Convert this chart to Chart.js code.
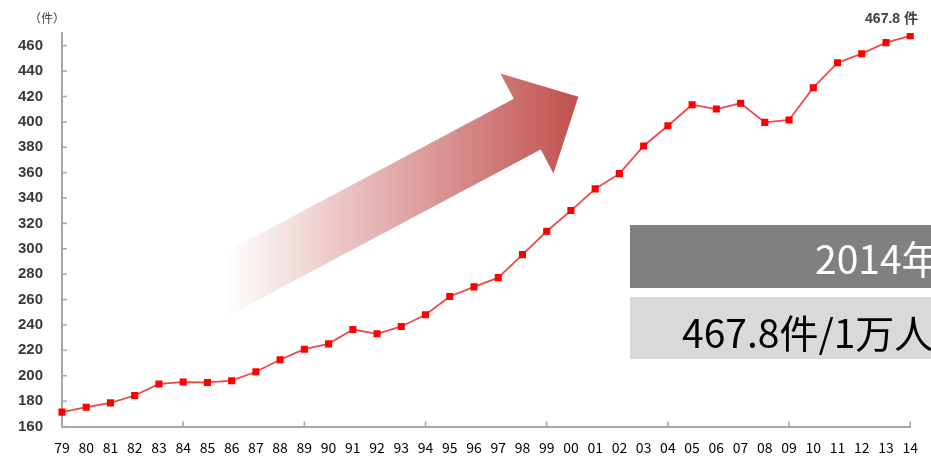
<!DOCTYPE html>
<html>
<head>
<meta charset="utf-8">
<script src="https://cdn.jsdelivr.net/npm/chart.js@4"></script>
<style>
  body { margin: 0; background: #fff; }
</style>
</head>
<body>
<canvas id="trendChart" width="931" height="457"></canvas>
<script>
// years (79 .. 14)
const years = ['79', '80', '81', '82', '83', '84', '85', '86', '87', '88', '89', '90',
    '91', '92', '93', '94', '95', '96', '97', '98', '99', '00', '01', '02',
    '03', '04', '05', '06', '07', '08', '09', '10', '11', '12', '13', '14'];

// 件数 per year
const counts = [171.3, 175.2, 178.6, 184.4, 193.5, 195.0, 194.7, 196.1, 203.1, 212.6, 220.9, 225.1,
    236.4, 233.0, 238.8, 248.0, 262.4, 270.0, 277.3, 295.4, 313.8, 330.1, 347.2, 359.2,
    381.0, 396.9, 413.5, 410.1, 414.6, 399.6, 401.5, 426.9, 446.6, 453.7, 462.4, 467.8];

// y tick labels
const yTicks = [160, 180, 200, 220, 240, 260, 280, 300, 320, 340, 360, 380, 400, 420, 440, 460];
const yMin = 160;
const yMax = 470;

const unitLabel = '（件）';
const lastLabel = '467.8 件';
const boxTitle = '2014年';
const boxValue = '467.8件/1万人';

const axisColor = '#a6a6a6';

// big arrow behind the line
const arrowPlugin = {
    id: 'arrow',
    beforeDatasetsDraw(chart) {
        const ctx = chart.ctx;
        const d = [0.883, -0.47], n = [0.47, 0.883];
        const p = (a, b) => [a * d[0] + b * n[0], a * d[1] + b * n[1]];
        const pts = [p(40, 328.5), p(407, 328.5), p(407, 300), p(465, 357), p(407, 413), p(407, 385.9), p(40, 385.9)];
        const g = ctx.createLinearGradient(225, 0, 580, 0);
        g.addColorStop(0, 'rgba(192,80,77,0)');
        g.addColorStop(0.45, 'rgba(192,80,77,0.45)');
        g.addColorStop(1, 'rgba(192,80,77,1)');
        ctx.save();
        ctx.beginPath();
        pts.forEach((q, i) => i ? ctx.lineTo(q[0], q[1]) : ctx.moveTo(q[0], q[1]));
        ctx.closePath();
        ctx.fillStyle = g;
        ctx.fill();
        ctx.restore();
    }
};

// inner tick marks, labels and the boxes
const extrasPlugin = {
    id: 'extras',
    afterDraw(chart) {
        const ctx = chart.ctx;
        const x = chart.scales.x, y = chart.scales.y;
        ctx.save();
        ctx.strokeStyle = axisColor;
        ctx.lineWidth = 1.5;
        y.ticks.forEach(t => {
            const py = y.getPixelForValue(t.value);
            ctx.beginPath();
            ctx.moveTo(x.left, py);
            ctx.lineTo(x.left + 5, py);
            ctx.stroke();
        });
        for (let i = 5; i < years.length; i += 5) {
            const px = x.getPixelForValue(i);
            ctx.beginPath();
            ctx.moveTo(px, y.bottom);
            ctx.lineTo(px, y.bottom - 5);
            ctx.stroke();
        }

        ctx.fillStyle = '#404040';
        ctx.font = '12px "Noto Sans CJK JP"';
        ctx.textAlign = 'center';
        ctx.textBaseline = 'middle';
        ctx.fillText(unitLabel, 47, 18);

        ctx.font = 'bold 14px "Liberation Sans", "Noto Sans CJK JP"';
        ctx.textAlign = 'right';
        ctx.fillText(lastLabel, 918, 19);

        ctx.fillStyle = '#808080';
        ctx.fillRect(630, 225, 301, 63);
        ctx.fillStyle = '#d9d9d9';
        ctx.fillRect(630, 297, 301, 62);

        ctx.textAlign = 'left';
        ctx.textBaseline = 'alphabetic';
        ctx.font = '39px "Noto Sans CJK JP"';
        ctx.fillStyle = '#ffffff';
        ctx.fillText(boxTitle, 815, 274);
        ctx.fillStyle = '#000000';
        ctx.fillText(boxValue, 682, 348);
        ctx.restore();
    }
};

const ctx = document.getElementById('trendChart').getContext('2d');
new Chart(ctx, {
    type: 'line',
    data: {
        labels: years,
        datasets: [{
            data: counts,
            borderColor: '#f04848',
            borderWidth: 1.8,
            pointStyle: 'rect',
            pointRadius: 5,
            pointBorderWidth: 0,
            pointBackgroundColor: '#ff0000',
            tension: 0
        }]
    },
    options: {
        responsive: false,
        animation: false,
        layout: { padding: { top: 33, right: 10, left: 0, bottom: 0 } },
        plugins: {
            legend: { display: false },
            tooltip: { enabled: false }
        },
        scales: {
            x: {
                offset: false,
                grid: { display: false, drawTicks: false },
                border: { color: axisColor, width: 2 },
                ticks: {
                    autoSkip: false,
                    maxRotation: 0,
                    padding: 13,
                    color: '#000',
                    font: { family: '"Noto Sans CJK JP"', size: 14 }
                },
                afterFit(scale) { scale.height = 30.5; }
            },
            y: {
                min: yMin,
                max: yMax,
                grid: { display: false, drawTicks: false },
                border: { color: axisColor, width: 2 },
                ticks: {
                    padding: 19,
                    color: '#3a3a3a',
                    font: { family: '"Liberation Sans"', size: 15, weight: 'bold' }
                },
                afterBuildTicks(scale) {
                    scale.ticks = yTicks.map(v => ({ value: v }));
                },
                afterFit(scale) { scale.width = 62; }
            }
        }
    },
    plugins: [arrowPlugin, extrasPlugin]
});
</script>
</body>
</html>
